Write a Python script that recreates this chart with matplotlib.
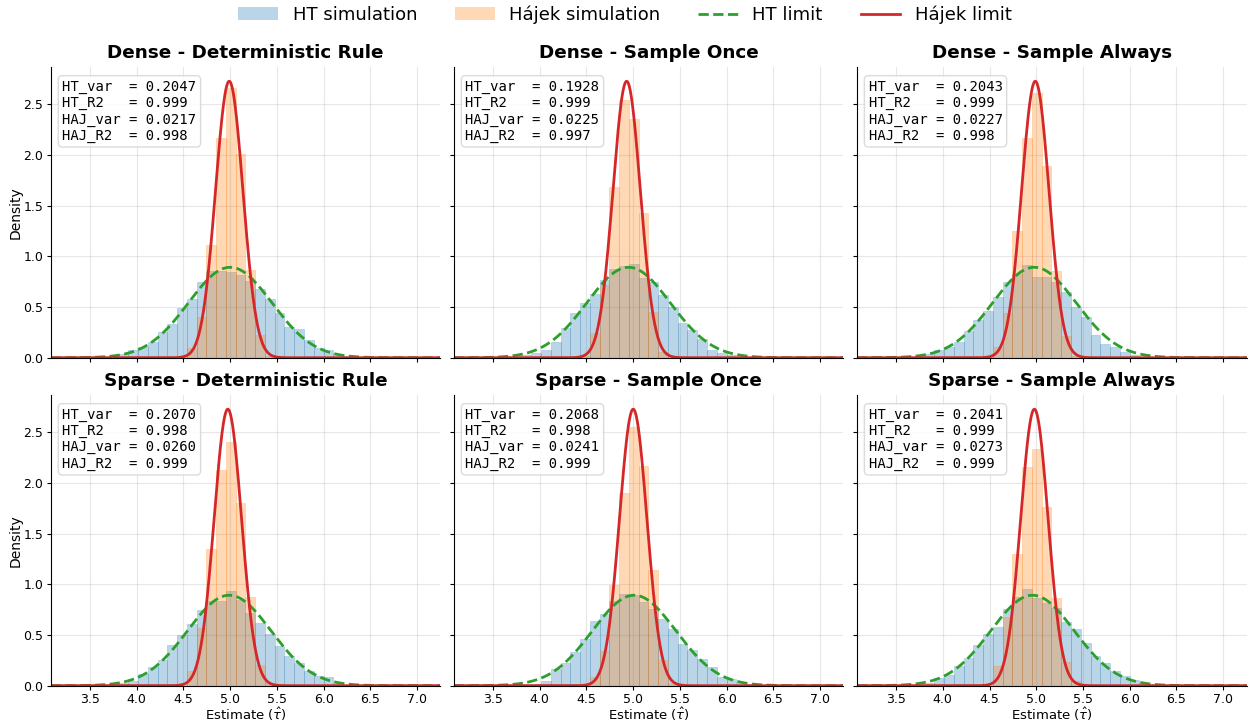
import numpy as np
import matplotlib
matplotlib.use("Agg")
import matplotlib.pyplot as plt
from matplotlib.patches import Patch
from matplotlib.lines import Line2D

# ---------------- data ----------------
panel_titles = [
    "Dense - Deterministic Rule", "Dense - Sample Once", "Dense - Sample Always",
    "Sparse - Deterministic Rule", "Sparse - Sample Once", "Sparse - Sample Always",
]

BIN_WIDTH = 0.1045
HT_BIN_START = 3.5955     # 27 bins
HAJ_BIN_START = 4.4315    # 10 bins

ht_density = [
    [0.01, 0.02, 0.04, 0.076, 0.11, 0.16, 0.25, 0.33, 0.49, 0.58, 0.75, 0.855, 0.86, 0.85,
     0.82, 0.76, 0.68, 0.58, 0.44, 0.30, 0.28, 0.17, 0.10, 0.076, 0.04, 0.02, 0.01],
    [0.0, 0.01, 0.03, 0.05, 0.08, 0.16, 0.29, 0.44, 0.54, 0.63, 0.77, 0.88, 0.90, 0.92,
     0.79, 0.75, 0.62, 0.50, 0.34, 0.27, 0.18, 0.08, 0.05, 0.03, 0.01, 0.0, 0.0],
    [0.01, 0.03, 0.04, 0.08, 0.11, 0.16, 0.26, 0.37, 0.46, 0.60, 0.75, 0.83, 0.91, 0.80,
     0.80, 0.75, 0.65, 0.50, 0.40, 0.22, 0.135, 0.11, 0.06, 0.03, 0.01, 0.0, 0.0],
    [0.0, 0.01, 0.03, 0.05, 0.12, 0.18, 0.25, 0.40, 0.50, 0.605, 0.75, 0.835, 0.84, 0.93,
     0.85, 0.72, 0.62, 0.51, 0.39, 0.29, 0.22, 0.145, 0.10, 0.09, 0.03, 0.01, 0.0],
    [0.0, 0.0, 0.01, 0.02, 0.05, 0.16, 0.22, 0.33, 0.46, 0.64, 0.71, 0.84, 0.90, 0.89,
     0.83, 0.76, 0.655, 0.555, 0.41, 0.35, 0.26, 0.18, 0.085, 0.07, 0.03, 0.02, 0.01],
    [0.0, 0.01, 0.03, 0.08, 0.11, 0.19, 0.27, 0.40, 0.51, 0.58, 0.76, 0.87, 0.95, 0.86,
     0.82, 0.77, 0.63, 0.555, 0.42, 0.29, 0.22, 0.145, 0.10, 0.056, 0.03, 0.02, 0.01],
]

haj_density = [
    [0.0, 0.10, 0.40, 1.11, 2.17, 2.66, 2.01, 0.865, 0.22, 0.02],
    [0.02, 0.24, 0.72, 1.68, 2.54, 2.35, 1.43, 0.45, 0.06, 0.0],
    [0.0, 0.11, 0.44, 1.25, 2.17, 2.61, 1.89, 0.855, 0.21, 0.02],
    [0.0, 0.145, 0.566, 1.35, 2.13, 2.40, 1.80, 0.875, 0.20, 0.03],
    [0.0, 0.09, 0.34, 0.99, 1.90, 2.55, 2.17, 1.14, 0.25, 0.03],
    [0.0, 0.19, 0.68, 1.30, 2.16, 2.33, 1.76, 0.86, 0.23, 0.05],
]

# limit (normal) curves: centre per panel, common variance
ht_limit_mean = [5.00, 4.95, 4.98, 4.99, 5.01, 4.96]
haj_limit_mean = [4.99, 4.93, 4.99, 4.975, 5.00, 4.98]
HT_LIMIT_VAR = 0.200
HAJ_LIMIT_VAR = 0.0214

ht_var = ["0.2047", "0.1928", "0.2043", "0.2070", "0.2068", "0.2041"]
ht_r2 = ["0.999", "0.999", "0.999", "0.998", "0.998", "0.999"]
haj_var = ["0.0217", "0.0225", "0.0227", "0.0260", "0.0241", "0.0273"]
haj_r2 = ["0.998", "0.997", "0.998", "0.999", "0.999", "0.999"]

XLIM = (3.08, 7.25)
YLIM = (0.0, 2.87)
x_ticks = [3.5, 4.0, 4.5, 5.0, 5.5, 6.0, 6.5, 7.0]
y_ticks = [0.0, 0.5, 1.0, 1.5, 2.0, 2.5]


def normal_pdf(x, mu, var):
    return np.exp(-(x - mu) ** 2 / (2 * var)) / np.sqrt(2 * np.pi * var)


fig, axes = plt.subplots(2, 3, figsize=(12.5, 7.23), dpi=100, sharex=True, sharey=True)
fig.subplots_adjust(left=0.0406, right=0.9972, top=0.9077, bottom=0.0516,
                    wspace=0.0343, hspace=0.127)

xs = np.linspace(XLIM[0], XLIM[1], 800)

for i, ax in enumerate(axes.flat):
    ht = np.array(ht_density[i])
    hj = np.array(haj_density[i])
    ht_left = HT_BIN_START + BIN_WIDTH * np.arange(len(ht))
    hj_left = HAJ_BIN_START + BIN_WIDTH * np.arange(len(hj))
    ax.bar(ht_left, ht, width=BIN_WIDTH, align="edge", color="C0", alpha=0.3,
           edgecolor="C0", linewidth=0.5)
    ax.bar(hj_left, hj, width=BIN_WIDTH, align="edge", color="C1", alpha=0.3,
           edgecolor="C1", linewidth=0.5)
    ax.plot(xs, normal_pdf(xs, ht_limit_mean[i], HT_LIMIT_VAR), color="C2",
            linestyle="--", linewidth=2)
    ax.plot(xs, normal_pdf(xs, haj_limit_mean[i], HAJ_LIMIT_VAR), color="C3",
            linewidth=2)

    ax.set_title(panel_titles[i], fontsize=13.2, fontweight="bold")
    txt = (f"HT_var  = {ht_var[i]}\nHT_R2   = {ht_r2[i]}\n"
           f"HAJ_var = {haj_var[i]}\nHAJ_R2  = {haj_r2[i]}")
    ax.text(0.03, 0.955, txt, transform=ax.transAxes, va="top", ha="left",
            family="DejaVu Sans Mono", fontsize=10,
            bbox=dict(boxstyle="round", facecolor="white", alpha=0.8,
                      edgecolor="lightgray"))
    ax.grid(True, alpha=0.3)
    ax.set_axisbelow(True)
    ax.spines["top"].set_visible(False)
    ax.spines["right"].set_visible(False)
    ax.set_xlim(*XLIM)
    ax.set_ylim(*YLIM)
    ax.set_xticks(x_ticks)
    ax.set_yticks(y_ticks)
    ax.tick_params(labelsize=9, length=3, pad=2.5)
    if i % 3 == 0:
        ax.set_ylabel("Density", fontsize=10, labelpad=0)
    if i >= 3:
        ax.set_xlabel(r"Estimate ($\hat{\tau}$)", fontsize=9.5, labelpad=0)

handles = [
    Patch(facecolor="C0", alpha=0.3),
    Patch(facecolor="C1", alpha=0.3),
    Line2D([], [], color="C2", linestyle="--", linewidth=2),
    Line2D([], [], color="C3", linewidth=2),
]
labels = ["HT simulation", "Hájek simulation", "HT limit", "Hájek limit"]
fig.legend(handles, labels, loc="upper center", bbox_to_anchor=(0.5, 1.015),
           ncol=4, frameon=False, fontsize=13, columnspacing=2.1,
           handlelength=2.2)

fig.savefig("out.png", dpi=100)
